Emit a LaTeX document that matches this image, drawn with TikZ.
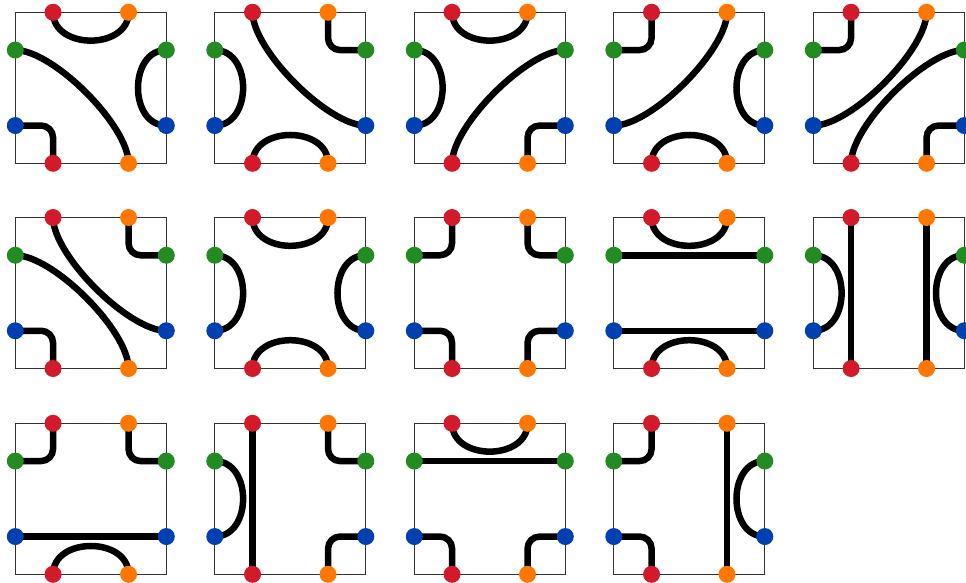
\documentclass[tikz,border=0pt]{standalone}
\definecolor{pRed}{RGB}{210,26,42}
\definecolor{pOrange}{RGB}{255,119,0}
\definecolor{pGreen}{RGB}{34,139,34}
\definecolor{pBlue}{RGB}{0,64,176}
\tikzset{
  frame/.style={draw=black!80, line width=1pt},
  wire/.style={draw=black, line width=6.5pt},
  corner/.style={wire, rounded corners=12pt},
  knot/.style={circle, inner sep=0pt, minimum size=17pt, draw=none},
  knotR/.style={knot, fill=pRed},
  knotO/.style={knot, fill=pOrange},
  knotG/.style={knot, fill=pGreen},
  knotB/.style={knot, fill=pBlue},
}
\newcommand{\mksq}[3]{%
  \draw[frame] (#2,#3) rectangle ++(151,151);
  \coordinate (#1T1) at (#2+37.75,#3);
  \coordinate (#1T2) at (#2+113.25,#3);
  \coordinate (#1B1) at (#2+37.75,#3+151);
  \coordinate (#1B2) at (#2+113.25,#3+151);
  \coordinate (#1L1) at (#2,#3+37.75);
  \coordinate (#1L2) at (#2,#3+113.25);
  \coordinate (#1R1) at (#2+151,#3+37.75);
  \coordinate (#1R2) at (#2+151,#3+113.25);
}
\newcommand{\mkknots}[1]{%
  \node[knotR] (#1kT1) at (#1T1) {};
  \node[knotO] (#1kT2) at (#1T2) {};
  \node[knotR] (#1kB1) at (#1B1) {};
  \node[knotO] (#1kB2) at (#1B2) {};
  \node[knotG] (#1kL1) at (#1L1) {};
  \node[knotB] (#1kL2) at (#1L2) {};
  \node[knotG] (#1kR1) at (#1R1) {};
  \node[knotB] (#1kR2) at (#1R2) {};
}
% arcs between neighbours on one side
\newcommand{\arcT}[1]{\draw[wire] (#1T1) .. controls +(0,37.75) and +(0,37.75) .. (#1T2);}
\newcommand{\arcB}[1]{\draw[wire] (#1B1) .. controls +(0,-37.75) and +(0,-37.75) .. (#1B2);}
\newcommand{\arcL}[1]{\draw[wire] (#1L1) .. controls +(37.75,0) and +(37.75,0) .. (#1L2);}
\newcommand{\arcR}[1]{\draw[wire] (#1R1) .. controls +(-37.75,0) and +(-37.75,0) .. (#1R2);}
% long diagonals
\newcommand{\dLB}[1]{\draw[wire] (#1L1) .. controls +(37.75,0) and +(0,-37.75) .. (#1B2);}
\newcommand{\dTR}[1]{\draw[wire] (#1T1) .. controls +(0,37.75) and +(-37.75,0) .. (#1R2);}
\newcommand{\dBR}[1]{\draw[wire] (#1B1) .. controls +(0,-37.75) and +(-37.75,0) .. (#1R1);}
\newcommand{\dTL}[1]{\draw[wire] (#1T2) .. controls +(0,37.75) and +(37.75,0) .. (#1L2);}
% corners
\newcommand{\cTL}[1]{\draw[corner] (#1L1) -| (#1T1);}
\newcommand{\cTR}[1]{\draw[corner] (#1R1) -| (#1T2);}
\newcommand{\cBL}[1]{\draw[corner] (#1L2) -| (#1B1);}
\newcommand{\cBR}[1]{\draw[corner] (#1R2) -| (#1B2);}
% straights
\newcommand{\sH}[1]{\draw[wire] (#1L1) -- (#1R1);}
\newcommand{\sHb}[1]{\draw[wire] (#1L2) -- (#1R2);}
\newcommand{\sV}[1]{\draw[wire] (#1T1) -- (#1B1);}
\newcommand{\sVb}[1]{\draw[wire] (#1T2) -- (#1B2);}
\begin{document}
\begin{tikzpicture}[x=1pt,y=-1pt]
\useasboundingbox (0,0) rectangle (966,582);
\mksq{a}{15.3}{12.3}
\mksq{b}{214.8}{12.3}
\mksq{c}{414.3}{12.3}
\mksq{d}{613.8}{12.3}
\mksq{e}{813.3}{12.3}
\mksq{f}{15.3}{217.5}
\mksq{g}{214.8}{217.5}
\mksq{h}{414.3}{217.5}
\mksq{i}{613.8}{217.5}
\mksq{j}{813.3}{217.5}
\mksq{k}{15.3}{423.3}
\mksq{l}{214.8}{423.3}
\mksq{m}{414.3}{423.3}
\mksq{n}{613.8}{423.3}
% square a
\arcT{a}\arcR{a}\dLB{a}\cBL{a}
% square b
\arcL{b}\arcB{b}\dTR{b}\cTR{b}
% square c
\arcT{c}\arcL{c}\dBR{c}\cBR{c}
% square d
\arcR{d}\arcB{d}\dTL{d}\cTL{d}
% square e
\dTL{e}\dBR{e}\cTL{e}\cBR{e}
% square f
\dTR{f}\dLB{f}\cTR{f}\cBL{f}
% square g
\arcT{g}\arcL{g}\arcR{g}\arcB{g}
% square h
\cTL{h}\cTR{h}\cBL{h}\cBR{h}
% square i
\arcT{i}\sH{i}\sHb{i}\arcB{i}
% square j
\arcL{j}\sV{j}\sVb{j}\arcR{j}
% square k
\cTL{k}\cTR{k}\sHb{k}\arcB{k}
% square l
\arcL{l}\sV{l}\cTR{l}\cBR{l}
% square m
\arcT{m}\sH{m}\cBL{m}\cBR{m}
% square n
\cTL{n}\cBL{n}\sVb{n}\arcR{n}
% knots on top
\mkknots{a}\mkknots{b}\mkknots{c}\mkknots{d}\mkknots{e}
\mkknots{f}\mkknots{g}\mkknots{h}\mkknots{i}\mkknots{j}
\mkknots{k}\mkknots{l}\mkknots{m}\mkknots{n}
\end{tikzpicture}
\end{document}
